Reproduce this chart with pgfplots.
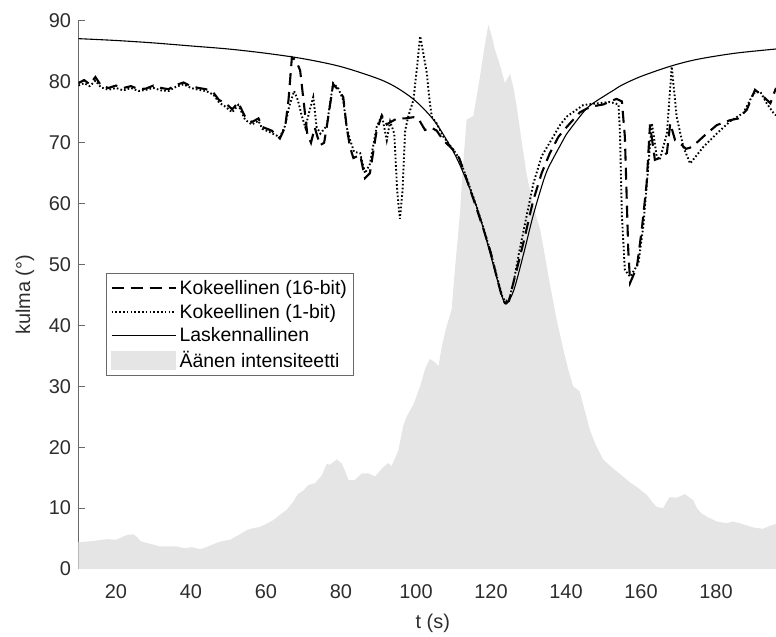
\documentclass[border=0pt]{standalone}
\usepackage{fontspec}
\setmainfont{Liberation Sans}
\usepackage{pgfplots}
\pgfplotsset{compat=1.18}
\usetikzlibrary{calc}
\definecolor{areagray}{RGB}{229,229,229}
\definecolor{axgray}{RGB}{105,105,105}
\definecolor{txtgray}{RGB}{45,45,45}
\pgfplotsset{arealeg/.style={legend image code/.code={\fill[areagray] (0bp,-9bp) rectangle (64bp,9bp);}}}
\begin{document}
\begin{tikzpicture}
\begin{axis}[name=ax, scale only axis, width=697.5bp, height=548bp,
 xmin=10, xmax=196, ymin=0, ymax=90,
 axis x line*=bottom, axis y line*=left,
 axis line style={-, axgray, line width=1bp},
 tick align=inside, major tick length=7bp,
 tick style={axgray, line width=1bp},
 xtick={20,40,...,180}, ytick={0,10,...,90},
 font=\fontsize{20}{24}\selectfont,
 ticklabel style={txtgray, font=\fontsize{20}{24}\selectfont},
 xticklabel style={yshift=-12bp},
 yticklabel style={xshift=-4bp},
 /pgf/number format/assume math mode=true,
 xlabel={t (s)}, ylabel={kulma (°)},
 every axis x label/.style={at={(axis description cs:0.508,0)}, anchor=north, yshift=-42bp, txtgray},
 every axis y label/.style={at={(axis description cs:-0.0767,0.5)}, rotate=90, anchor=center, txtgray},
 legend style={at={(axis description cs:0.0394,0.540)}, anchor=north west, draw=axgray, line width=1bp,
   font=\fontsize{19.5}{23}\selectfont, row sep=4bp, inner xsep=4bp, inner ysep=5bp,
   nodes={inner xsep=3bp}, text=black},
 legend cell align=left,
 legend image code/.code={\draw[#1] (0bp,0bp) -- (64bp,0bp);},
]
\addplot[fill=areagray, draw=none, forget plot] table {
10 4.4
12 4.5
14 4.6
16 4.8
18 4.9
20 4.8
21.5 5.2
23 5.6
24.6 5.7
25.5 5.3
26.5 4.6
28 4.3
30 4.0
31.7 3.7
34 3.7
36.2 3.7
38.4 3.4
40.2 3.6
42 3.3
42.9 3.3
44.5 3.7
46.9 4.3
48.5 4.6
50.4 4.8
52.5 5.5
54.9 6.4
56.5 6.7
58.4 6.9
60 7.4
61.9 8.0
63.5 8.8
65.5 9.7
67.3 11.1
68.5 12.3
70 12.9
71.3 13.8
73.1 14.1
74.9 15.4
76.2 17.3
77 17.1
78.9 18.0
80.2 17.3
81 16.2
82 14.6
83.7 14.6
85.5 15.7
87.3 15.7
89.1 15.2
90.9 16.5
92.6 17.4
93.5 16.9
95.3 19.5
96.6 23.5
97.5 25.0
99.3 27.0
101.1 30.0
102.5 33
103.7 34.5
105 34
106 33.3
106.9 36.6
108 39.5
109.5 42.6
110.5 50
111.7 58.2
112.5 66
113.5 73.8
115.3 74.4
116 77
117.1 81.0
118.2 85.5
119.3 89.4
120.2 87.5
121.1 85.2
122.5 82.5
123.7 79.8
125.1 81.3
126 79
126.8 76.2
128 71
129.5 64.8
131 60.5
132.2 57.6
133.1 55.8
134.5 51
135.7 46.8
137.5 41
139.3 36.0
140.5 33
141.9 30.0
143 29.5
143.7 29.1
145 26
146.4 22.8
148 20.3
149.9 18.0
152 16.8
154.4 15.6
157.1 14.2
159 13.4
161.5 12.2
163 11.0
164.2 10.2
165.9 10.0
166.8 11
167.7 11.8
169.5 11.7
171.7 12.3
173.9 11.3
174.9 10.0
176 9.2
177.5 8.6
180.2 7.8
182.9 7.5
184.5 7.8
186.4 7.5
188 7.2
190 6.8
192.6 6.6
194.4 7.1
196 7.4
} \closedcycle;

\addplot[black, line width=2.1bp, dash pattern=on 12bp off 7bp] table {
10 79.8
11.5 80.3
13 79.6
14.5 80.8
16 79.4
18 79.0
20 79.4
22 79.0
24 79.3
26 78.8
28 78.9
30 79.4
32 79.0
34 78.8
36 79.5
38 79.9
40 79.3
42 79.0
44 78.8
46 78.2
47.5 77.0
49 76.6
51 75.5
52.6 76.6
54.4 74.3
56.2 73.4
58 74.0
59 72.6
61.5 72.0
63.7 70.7
65.1 72.6
66 77.0
66.9 84.0
68 83.5
69.1 81.9
70 77
71 71.5
72 70
73 72.5
74.4 69.6
75.5 70
76.2 72.6
77.9 79.6
79.3 78.7
80.6 77.5
81.5 72.6
82.4 69.3
83.3 67.5
85.1 68.0
86.4 64.2
87.7 65.0
89.5 72.0
90.9 74.5
92.2 73.0
93.5 73.5
95 74.0
97.1 74.0
99.3 74.2
100.6 74.0
102.4 72.1
104 72.5
105.5 72.0
107.3 70.4
110 68.8
111.5 67.5
113.5 64
116 59.5
118 55.8
120 51.8
121.5 48.0
123 44.5
123.7 43.7
124.8 44
125.5 45.9
127 49.5
129 54.5
130.4 58.3
131.3 60.6
133.5 65.0
135.7 68.3
138 71.0
140.2 72.6
143.7 75.0
145.5 75.6
147.3 76.0
150 76.3
151.7 76.8
153.5 77.2
154.9 76.8
155.7 71.0
156.6 52.4
157.1 47.0
158.9 49.6
160.2 55.7
161.5 63.3
162.4 73.0
163.7 67.2
165 67.5
166.9 68.3
167.8 73.2
169.1 70.4
170.4 69.9
172 69.0
173.6 69.3
176.6 71.0
180.2 72.9
183.7 73.7
186 74
188.2 75.4
190.4 78.7
192.6 77.6
194.5 76.5
196 79.0
};
\addlegendentry{Kokeellinen (16-bit)}

\addplot[black, line width=1.9bp, dash pattern=on 1.6bp off 2.2bp] table {
10 79.4
11.5 79.8
13 79.3
14.5 80.2
16 79.1
18 78.7
20 79.0
22 78.6
24 79.0
26 78.5
28 78.7
30 79.0
32 78.6
34 78.5
36 79.2
38 79.6
40 79.0
42 78.7
44 78.5
46 77.9
47.5 76.6
49 76.0
51 75.0
52.6 76.2
54.4 73.8
56.2 73.0
58 73.6
59 72.3
61.5 71.6
63.7 70.9
65.1 72.8
66.2 76
67.5 78.5
68.5 77
69.5 74.5
70.5 72.5
71.5 75
72.6 77.5
73.5 72.6
74.5 71.5
76.2 72.8
77.9 79.8
79.3 78.9
80.6 77.0
81.5 72.6
82.4 70.5
83.5 68.5
85.1 68.3
86.4 65.0
87.7 66.5
89.5 72.6
90.9 74.5
92.2 70.4
93.1 73.5
94.2 71.5
95 62
95.7 57.5
96.4 62
97.1 72
98 74.5
99.3 77.0
100.2 82
101.1 87.5
102 84.5
102.9 81.4
103.6 77
104.2 74.3
105.5 73.2
107.3 71.0
110 68.8
111.5 67.5
113.5 64.2
116 59.8
118 56.0
120 51.8
121.5 48.2
123 44.8
123.7 44.0
124.8 44.2
126 47.0
127.5 52.0
129.5 58.0
131.3 63.3
133.5 67.8
136.6 71.0
138.5 73.0
140.2 74.3
144.6 76.2
147.3 76.4
151.7 76.7
154 76.3
154.4 71.5
154.9 58
155.7 49.1
157.1 48.0
159.3 50.2
160.6 56.2
162 66.6
162.9 73.2
164.2 67.7
165 67.2
166.9 71.5
168.2 82.5
169.5 74.3
171.3 69.3
173.1 66.6
176.6 69.3
180.2 71.5
183.7 73.5
187.3 74.9
190 78.1
191.8 78.4
193.5 76.5
195.3 74.9
196 74.5
};
\addlegendentry{Kokeellinen (1-bit)}

\addplot[black, line width=1.1bp, smooth] table {
10 87.1
20 86.8
30 86.4
40 85.9
50 85.4
60 84.7
70 83.8
80 82.5
90 80.5
95 79.0
100 76.8
105 73.5
110 68.5
113 64.5
116 59.8
118 55.8
120 51.3
122 46.8
123.7 43.6
125 44.3
126.4 46.4
129 52.5
131 57.5
133.1 62.0
135 65.5
138.4 69.5
140 71.3
144.6 75.0
147 76.4
152.6 78.6
155 79.5
160 80.9
168 82.6
175 83.7
185 84.7
196 85.4
};
\addlegendentry{Laskennallinen}

\addlegendimage{arealeg}
\addlegendentry{Äänen intensiteetti}
\end{axis}
\pgfresetboundingbox
\path[use as bounding box] ($(ax.south west)+(-78.5bp,-68bp)$) rectangle ($(ax.north east)+(0bp,21bp)$);
\end{tikzpicture}
\end{document}
